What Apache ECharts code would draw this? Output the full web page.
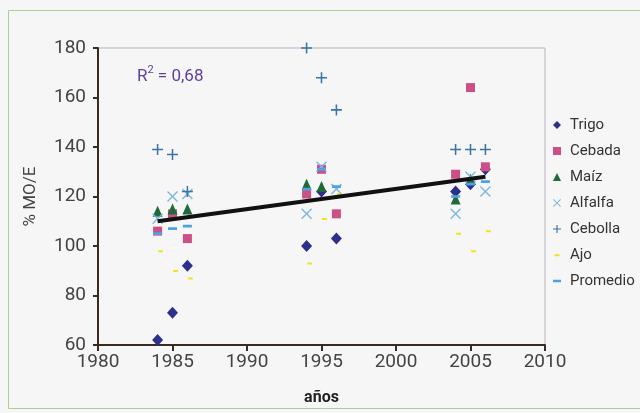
<!DOCTYPE html>
<html>
<head>
<meta charset="utf-8">
<script src="https://cdn.jsdelivr.net/npm/echarts@6/dist/echarts.min.js"></script>
<style>
html,body{margin:0;padding:0;background:#f6f6f6;}
#c{width:640px;height:413px;}
</style>
</head>
<body>
<div id="c"></div>
<script>
// Data: [year, % MO/E]
const trigo    = [[1984,62],[1985,73],[1986,92],[1994,100],[1995,122],[1996,103],[2004,122],[2005,125],[2006,131]];
const cebada   = [[1984,106],[1985,113],[1986,103],[1994,121],[1995,131],[1996,113],[2004,129],[2005,164],[2006,132]];
const maiz     = [[1984,114],[1985,115],[1986,115],[1994,125],[1995,124],[2004,119],[2005,127]];
const alfalfa  = [[1984,111],[1985,120],[1986,121],[1994,113],[1995,132],[1996,123],[2004,113],[2005,128],[2006,122]];
const cebolla  = [[1984,139],[1985,137],[1986,122],[1994,180],[1995,168],[1996,155],[2004,139],[2005,139],[2006,139]];
const ajo      = [[1984.2,98],[1985.2,90],[1986.2,87],[1994.2,93],[1995.2,111],[1996.2,121],[2004.2,105],[2005.2,98],[2006.2,106]];
const promedio = [[1984,105],[1985,107],[1986,108],[1994,123],[1995,131],[1996,124],[2004,120],[2005,125],[2006,126]];
const trend    = [[1984,110],[2006,128]];
const seriesNames = ['Trigo','Cebada','Maíz','Alfalfa','Cebolla','Ajo','Promedio'];
const xTicks = {min:1980, max:2010, step:5};
const yTicks = {min:60, max:180, step:20};

const PLUS = 'path://M4.3,0H5.7V4.3H10V5.7H5.7V10H4.3V5.7H0V4.3H4.3Z';
const CROSS = 'path://M0,0.9L0.9,0L5,4.1L9.1,0L10,0.9L5.9,5L10,9.1L9.1,10L5,5.9L0.9,10L0,9.1L4.1,5Z';
const DASH_AJO = 'path://M0,0L0,0ZM2,4H8V6.5H2ZM10,10L10,10Z';
const DASH_PROM = 'path://M0,0L0,0ZM0,3.5H10V6.5H0ZM10,10L10,10Z';

const font = 'Roboto, "Noto Sans", sans-serif';
const chart = echarts.init(document.getElementById('c'));

function sc(name, data, symbol, size, color){
  return {name, type:'scatter', data, symbol, symbolSize:size,
          itemStyle:{color, opacity:1}, z:3, emphasis:{disabled:true}};
}

chart.setOption({
  backgroundColor:'#f6f6f6',
  animation:false,
  textStyle:{fontFamily:font},
  graphic:[
    {type:'rect', shape:{x:8.5,y:10.5,width:640,height:398}, style:{fill:'none',stroke:'#a9cf96',lineWidth:1}, z:0},
    {type:'text', left:137, top:65, z:10, style:{
      text:'{b|R}{s|2}{b| = 0,68}', fontFamily:font,
      rich:{b:{fontSize:17, fill:'#5e3f9e', color:'#5e3f9e', fontFamily:font, verticalAlign:'bottom', lineHeight:20},
            s:{fontSize:11, fill:'#5e3f9e', color:'#5e3f9e', fontFamily:font, verticalAlign:'top', lineHeight:20}}
    }}
  ],
  grid:{left:98, right:95, top:48, bottom:68, show:true, borderColor:'#b9b2bd', borderWidth:1, backgroundColor:'transparent'},
  legend:{
    orient:'vertical', left:548, top:112,
    itemWidth:8, itemHeight:8, itemGap:10,
    data:seriesNames,
    textStyle:{fontSize:15, color:'#333', lineHeight:16, fontFamily:font, padding:[0,0,0,4]},
    selectedMode:false
  },
  xAxis:{
    type:'value', min:xTicks.min, max:xTicks.max, interval:xTicks.step,
    name:'años', nameLocation:'middle', nameGap:45,
    nameTextStyle:{fontSize:16, fontWeight:'bold', color:'#222', fontFamily:font},
    axisLine:{show:true, lineStyle:{color:'#3a2b22', width:2}},
    axisTick:{show:true, length:6, lineStyle:{color:'#3a2b22', width:2}},
    axisLabel:{fontSize:19, color:'#444', margin:8, formatter:v=>String(v)},
    splitLine:{show:false}
  },
  yAxis:{
    type:'value', min:yTicks.min, max:yTicks.max, interval:yTicks.step,
    name:'% MO/E', nameLocation:'middle', nameGap:59, nameRotate:90,
    nameTextStyle:{fontSize:17, color:'#444', fontFamily:font},
    axisLine:{show:true, lineStyle:{color:'#3a2b22', width:2}},
    axisTick:{show:true, length:5, lineStyle:{color:'#3a2b22', width:2}},
    axisLabel:{fontSize:19, color:'#444', margin:12},
    splitLine:{show:false}
  },
  series:[
    sc('Trigo', trigo, 'diamond', [11,12], '#2c2f8c'),
    sc('Cebada', cebada, 'rect', [9,9], '#cc4f86'),
    sc('Maíz', maiz, 'triangle', [10,11], '#1f6a39'),
    sc('Alfalfa', alfalfa, CROSS, [11,11], '#7db6e2'),
    sc('Cebolla', cebolla, PLUS, [11,11], '#3a74a8'),
    sc('Ajo', ajo, DASH_AJO, [8,8], '#f0e41a'),
    sc('Promedio', promedio, DASH_PROM, [9,9], '#4ea2e4'),
    {name:'trend', type:'line', data:trend, symbol:'none', z:4,
     lineStyle:{color:'#111', width:4}, emphasis:{disabled:true}}
  ]
});
</script>
</body>
</html>
